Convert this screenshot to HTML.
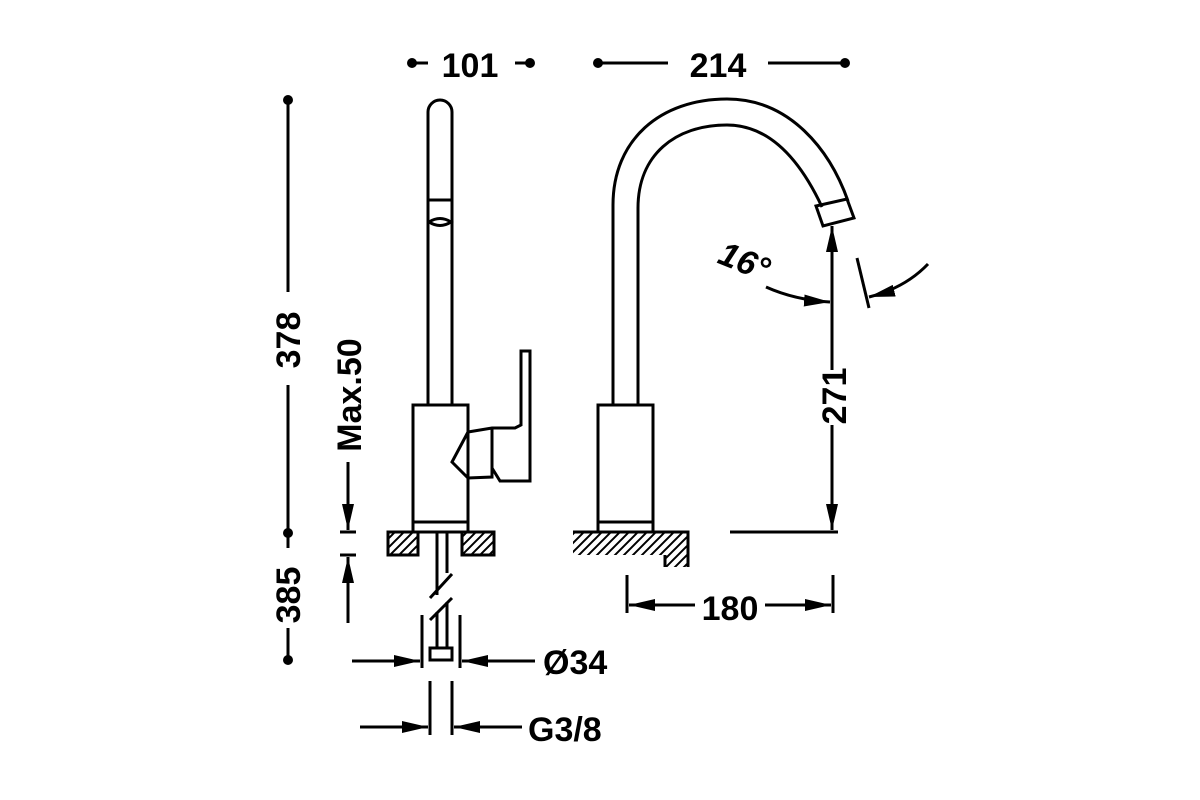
<!DOCTYPE html>
<html><head><meta charset="utf-8"><style>html,body{margin:0;padding:0;background:#fff}svg{display:block}text{font-family:"Liberation Sans",Arial,sans-serif;font-weight:bold;font-size:34px;fill:#000}</style></head><body>
<svg width="1200" height="800" viewBox="0 0 1200 800" xmlns="http://www.w3.org/2000/svg">
<defs>
<pattern id="h" width="9" height="9" patternUnits="userSpaceOnUse"><path d="M-2,11 L11,-2 M-2,2 L2,-2 M7,11 L11,7" stroke="#000" stroke-width="2"/></pattern>
<marker id="A" markerWidth="26" markerHeight="12" refX="26" refY="6" orient="auto" markerUnits="userSpaceOnUse"><path d="M0,0 L26,6 L0,12 z" fill="#000"/></marker>
</defs>
<g stroke="#000" stroke-width="3" fill="none">
<line x1="412" y1="63" x2="428" y2="63"/><line x1="515" y1="63" x2="530" y2="63"/>
<line x1="598" y1="63" x2="668" y2="63"/><line x1="768" y1="63" x2="845" y2="63"/>
<line x1="288" y1="100" x2="288" y2="292"/><line x1="288" y1="385" x2="288" y2="533"/>
<line x1="288" y1="533" x2="288" y2="548"/><line x1="288" y1="628" x2="288" y2="660"/>
<line x1="348" y1="462" x2="348" y2="530" marker-end="url(#A)"/>
<line x1="340" y1="532" x2="356" y2="532"/><line x1="340" y1="555" x2="356" y2="555"/>
<line x1="348" y1="623" x2="348" y2="557" marker-end="url(#A)"/>
<path d="M428,405 L428,112 A12,12 0 0 1 452,112 L452,405"/>
<path d="M429,200 L451,200 M429,222 Q440,215 451,222 Q440,229 429,222"/>
<rect x="413" y="405" width="55" height="117"/>
<rect x="413" y="522" width="55" height="10"/>
<path d="M468,432 L492,428 L515,428 L521,425 L521,351 L530,351 L530,481 L500,481 L492,468 L492,477 L468,478 L452,462 L468,432 M492,428 L492,468"/>
<rect x="388" y="532" width="30" height="23" fill="url(#h)"/>
<rect x="462" y="532" width="32" height="23" fill="url(#h)"/>
<line x1="388" y1="532" x2="494" y2="532"/>
<line x1="437" y1="532" x2="437" y2="595"/><line x1="447" y1="532" x2="447" y2="573"/>
<line x1="430" y1="598" x2="452" y2="574"/><line x1="430" y1="620" x2="452" y2="598"/>
<line x1="437" y1="612" x2="437" y2="648"/><line x1="447" y1="602" x2="447" y2="648"/>
<rect x="430" y="648" width="22" height="12"/>
<line x1="422" y1="615" x2="422" y2="668"/><line x1="460" y1="615" x2="460" y2="668"/>
<line x1="352" y1="661" x2="420" y2="661" marker-end="url(#A)"/>
<line x1="535" y1="661" x2="462" y2="661" marker-end="url(#A)"/>
<line x1="430" y1="681" x2="430" y2="735"/><line x1="452" y1="681" x2="452" y2="735"/>
<line x1="360" y1="727" x2="428" y2="727" marker-end="url(#A)"/>
<line x1="522" y1="727" x2="454" y2="727" marker-end="url(#A)"/>
<path d="M613,405 L613,205 C613,140 660,99 727,99 C790,99 830,150 848,201"/>
<path d="M638,405 L638,208 C638,155 675,125 727,125 C770,125 800,160 822,207"/>
<path d="M816,206 L847,199 L854,218 L823,226 Z"/>
<rect x="598" y="405" width="55" height="117"/>
<rect x="598" y="522" width="55" height="10"/>
<rect x="573" y="532" width="115" height="23" fill="url(#h)" stroke="none"/>
<rect x="665" y="555" width="23" height="12" fill="url(#h)" stroke="none"/>
<path d="M573,532 L688,532 L688,567"/><line x1="665" y1="555" x2="665" y2="567"/>
<line x1="832" y1="370" x2="832" y2="226" marker-end="url(#A)"/>
<line x1="832" y1="425" x2="832" y2="530" marker-end="url(#A)"/>
<line x1="730" y1="532" x2="838" y2="532"/>
<path d="M766,287 Q795,300 830,302" marker-end="url(#A)"/>
<line x1="857" y1="258" x2="869" y2="308"/>
<path d="M928,264 Q905,288 869,297" marker-end="url(#A)"/>
<line x1="627" y1="575" x2="627" y2="613"/><line x1="833" y1="575" x2="833" y2="613"/>
<line x1="695" y1="605" x2="629" y2="605" marker-end="url(#A)"/>
<line x1="765" y1="605" x2="831" y2="605" marker-end="url(#A)"/>
</g>
<g fill="#000">
<circle cx="412" cy="63" r="5"/><circle cx="530" cy="63" r="5"/>
<circle cx="598" cy="63" r="5"/><circle cx="845" cy="63" r="5"/>
<circle cx="288" cy="100" r="5"/><circle cx="288" cy="533" r="5"/><circle cx="288" cy="660" r="5"/>
</g>
<text x="470" y="77" text-anchor="middle">101</text>
<text x="718" y="77" text-anchor="middle">214</text>
<text transform="translate(300,340) rotate(-90)" text-anchor="middle">378</text>
<text transform="translate(300,595) rotate(-90)" text-anchor="middle">385</text>
<text transform="translate(361,395) rotate(-90)" text-anchor="middle">Max.50</text>
<text transform="translate(846,396) rotate(-90)" text-anchor="middle">271</text>
<text transform="translate(740,272) rotate(22)" text-anchor="middle" font-style="italic">16°</text>
<text x="730" y="620" text-anchor="middle">180</text>
<text x="543" y="674">Ø34</text>
<text x="528" y="741">G3/8</text>
</svg>
</body></html>
